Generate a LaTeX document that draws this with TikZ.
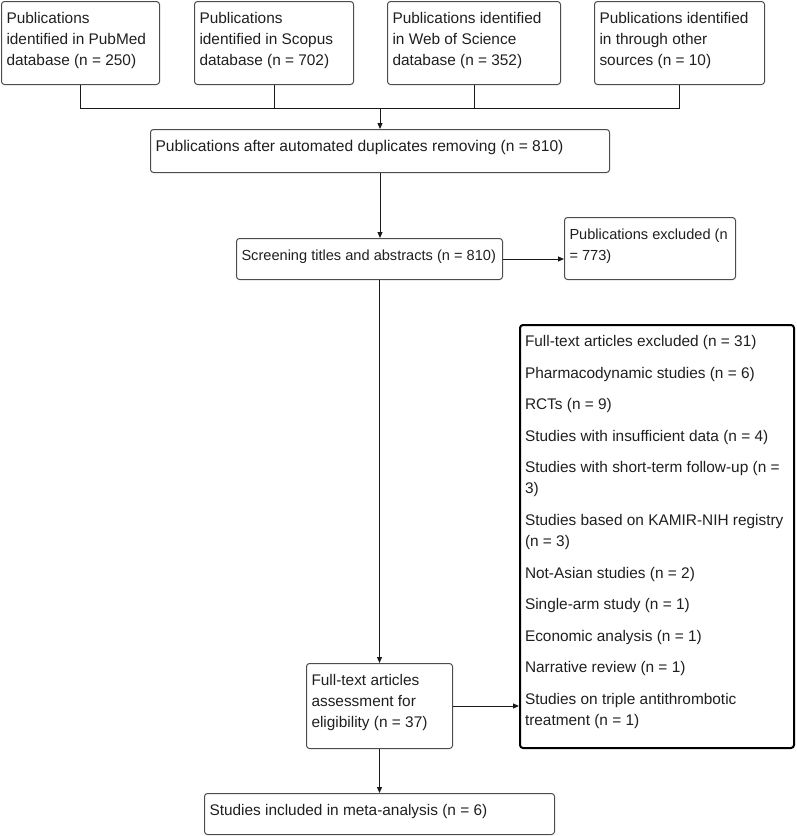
\documentclass[tikz,border=0pt]{standalone}
\usepackage{fontspec}
\setmainfont{Liberation Sans}
\usetikzlibrary{arrows.meta}
\newcommand\boxtxt[3]{\parbox[c][#2][t]{#1}{\vspace*{6.8pt}\raggedright\strut #3}}
\begin{document}
\begin{tikzpicture}[x=1pt,y=-1pt,
  box/.style={draw=black!70, line width=1pt, rounded corners=3pt, anchor=north west,
    inner xsep=5pt, inner ysep=0pt, text=black!88, font=\fontsize{15.4}{21}\selectfont},
  smallbox/.style={box, font=\fontsize{14.6}{21}\selectfont},
  listbox/.style={box, draw=black, line width=2pt},
  conn/.style={line width=1pt, draw=black!90},
  arr/.style={conn, -{Triangle[length=6pt,width=5pt]}}]
\useasboundingbox (0,0) rectangle (796,836);

\node[box] (pubmed) at (1,1) {\boxtxt{148pt}{83pt}{Publications\\identified in PubMed\\database (n = 250)}};
\node[box] (scopus) at (194,1) {\boxtxt{149pt}{83pt}{Publications\\identified in Scopus\\database (n = 702)}};
\node[box] (wos) at (387,1) {\boxtxt{163pt}{83pt}{Publications identified\\in Web of Science\\database (n = 352)}};
\node[box] (other) at (594,1) {\boxtxt{160pt}{83pt}{Publications identified\\in through other\\sources (n = 10)}};

\node[box, font=\fontsize{15.6}{21}\selectfont] (dup) at (150,129) {\boxtxt{449pt}{43pt}{Publications after automated duplicates removing (n = 810)}};
\node[smallbox] (screen) at (236,238) {\boxtxt{256pt}{41pt}{Screening titles and abstracts (n = 810)}};
\node[smallbox] (excl1) at (564,217) {\boxtxt{161pt}{62pt}{Publications excluded (n\\= 773)}};

\node[listbox] (list) at (519,324) {\boxtxt{264pt}{423pt}{Full-text articles excluded (n = 31)\\[10.6pt]
Pharmacodynamic studies (n = 6)\\[10.6pt]
RCTs (n = 9)\\[10.6pt]
Studies with insufficient data (n = 4)\\[10.6pt]
Studies with short-term follow-up (n =\\3)\\[10.6pt]
Studies based on KAMIR-NIH registry\\(n = 3)\\[10.6pt]
Not-Asian studies (n = 2)\\[10.6pt]
Single-arm study (n = 1)\\[10.6pt]
Economic analysis (n = 1)\\[10.6pt]
Narrative review (n = 1)\\[10.6pt]
Studies on triple antithrombotic\\treatment (n = 1)}};

\node[box] (assess) at (306,663) {\boxtxt{136pt}{85pt}{Full-text articles\\assessment for\\eligibility (n = 37)}};
\node[box] (incl) at (204,793) {\boxtxt{340pt}{41pt}{Studies included in meta-analysis (n = 6)}};

\coordinate (hy) at (0,108);
\draw[conn] (pubmed.south) -- (pubmed.south |- hy) -- (other.south |- hy) -- (other.south);
\draw[conn] (scopus.south) -- (scopus.south |- hy);
\draw[conn] (wos.south) -- (wos.south |- hy);
\draw[arr] (dup.north |- hy) -- (dup.north);
\draw[arr] (dup.south) -- (dup.south |- screen.north);
\draw[arr] (screen.east) -- (screen.east -| excl1.west);
\draw[arr] (assess.north |- screen.south) -- (assess.north);
\draw[arr] (assess.east) -- (assess.east -| list.west);
\draw[arr] (assess.south) -- (assess.south |- incl.north);
\end{tikzpicture}
\end{document}
